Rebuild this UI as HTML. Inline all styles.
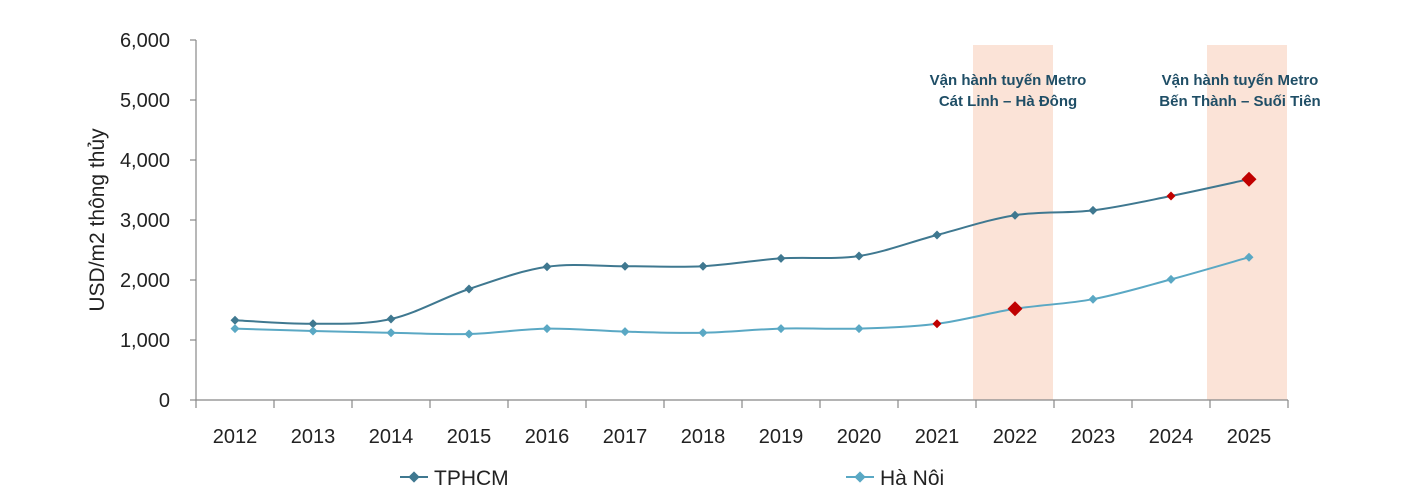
<!DOCTYPE html>
<html><head><meta charset="utf-8"><style>
body{margin:0;background:#fff;}
svg{display:block;font-family:"Liberation Sans",sans-serif;}
</style></head><body>
<svg id="c" width="1404" height="486" xmlns="http://www.w3.org/2000/svg">
<rect x="973" y="45" width="80" height="355" fill="#fbe3d7"/>
<rect x="1207" y="45" width="80" height="355" fill="#fbe3d7"/>
<g stroke="#888" stroke-width="1.2" fill="none">
<line x1="196" y1="40" x2="196" y2="400"/>
<line x1="196" y1="400" x2="1288" y2="400"/>
</g>
<g id="ticks" stroke="#888" stroke-width="1.2"></g>
<g id="ylab" font-size="20" fill="#222" text-anchor="end"></g>
<g id="xlab" font-size="20" fill="#222" text-anchor="middle"></g>
<text transform="translate(104,220) rotate(-90)" font-size="21" fill="#222" text-anchor="middle">USD/m2 thông thủy</text>
<g font-size="15" font-weight="bold" fill="#1f4e66" text-anchor="middle">
<text x="1008" y="85">Vận hành tuyến Metro</text>
<text x="1008" y="106">Cát Linh – Hà Đông</text>
<text x="1240" y="85">Vận hành tuyến Metro</text>
<text x="1240" y="106">Bến Thành – Suối Tiên</text>
</g>
<g id="series"></g>
<g font-size="21" fill="#222">
<line x1="400" y1="477" x2="428" y2="477" stroke="#3f7890" stroke-width="2"/>
<rect x="410" y="473" width="8" height="8" fill="#3f7890" transform="rotate(45 414 477)"/>
<text x="434" y="485">TPHCM</text>
<line x1="846" y1="477" x2="874" y2="477" stroke="#5aa8c4" stroke-width="2"/>
<rect x="856" y="473" width="8" height="8" fill="#5aa8c4" transform="rotate(45 860 477)"/>
<text x="880" y="485">Hà Nôi</text>
</g>
</svg>
<script>
const NS="http://www.w3.org/2000/svg";
function el(p,t,a,txt){const e=document.createElementNS(NS,t);for(const k in a)e.setAttribute(k,a[k]);if(txt!==undefined)e.textContent=txt;document.getElementById(p).appendChild(e);return e;}
const X=i=>235+78*i, Y=v=>400-v*0.06;
for(let k=0;k<=6;k++){const y=Y(k*1000);el("ticks","line",{x1:190,y1:y,x2:196,y2:y});
el("ylab","text",{x:170,y:y+7},k==0?"0":k+",000");}
for(let i=0;i<=14;i++){const x=196+78*i;el("ticks","line",{x1:x,y1:400,x2:x,y2:408});}
for(let i=0;i<14;i++)el("xlab","text",{x:X(i),y:443},String(2012+i));
const A=[1330,1270,1350,1850,2220,2230,2230,2360,2400,2750,3080,3160,3400,3680];
const B=[1190,1150,1120,1100,1190,1140,1120,1190,1190,1270,1520,1680,2010,2380];
function path(d){const p=d.map((v,i)=>[X(i),Y(v)]);let s="M"+p[0];
for(let i=0;i<p.length-1;i++){const p0=p[i-1]||p[i],p1=p[i],p2=p[i+1],p3=p[i+2]||p2;const t=1/6;
s+=` C${p1[0]+(p2[0]-p0[0])*t},${p1[1]+(p2[1]-p0[1])*t} ${p2[0]-(p3[0]-p1[0])*t},${p2[1]-(p3[1]-p1[1])*t} ${p2[0]},${p2[1]}`;}return s;}
function draw(d,c,reds){el("series","path",{d:path(d),fill:"none",stroke:c,"stroke-width":2});
d.forEach((v,i)=>{let r=reds[i];let col=r?"#c00000":c;let s=r==2?7.5:4.5;const x=X(i),y=Y(v);
el("series","polygon",{points:`${x},${y-s} ${x+s},${y} ${x},${y+s} ${x-s},${y}`,fill:col});});}
draw(A,"#3f7890",{12:1,13:2});
draw(B,"#5aa8c4",{9:1,10:2});
</script>
</body></html>
